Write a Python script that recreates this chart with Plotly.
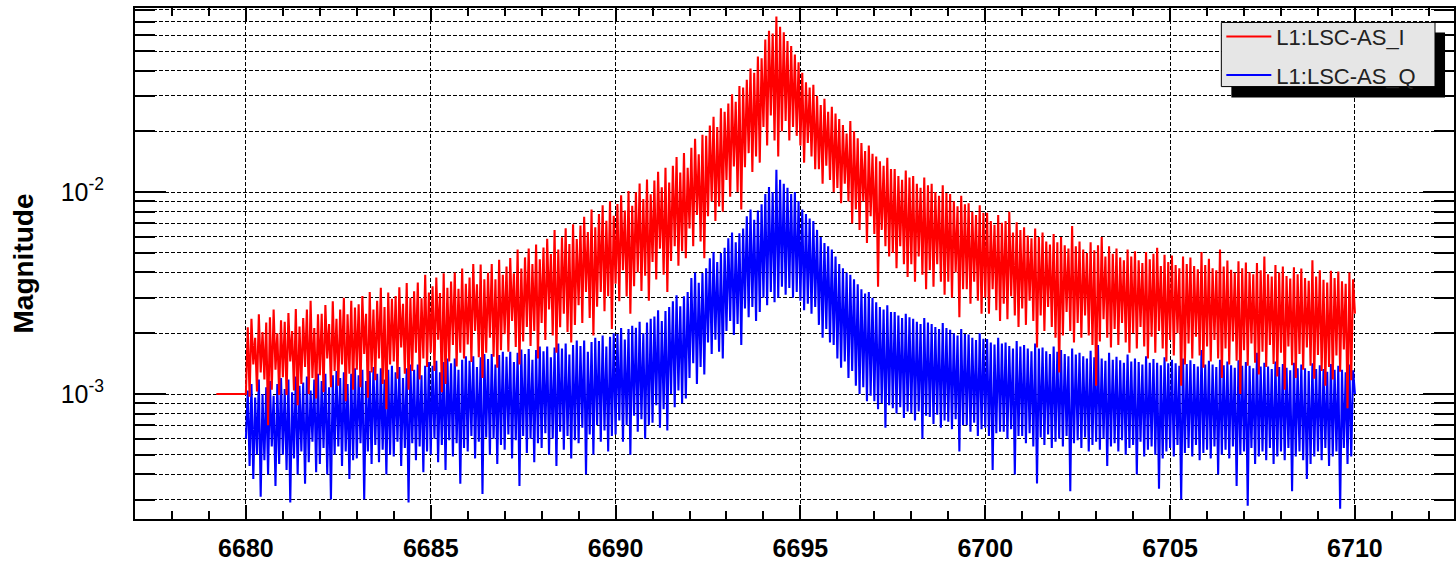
import numpy as np
import plotly.graph_objects as go

# Frequency grid of the measured spectrum (Hz)
F_START = 6680.0
F_STEP = 0.05

# In-phase channel magnitude, in units of 1e-5 (one row per 0.5 Hz)
AS_I_E5 = [
    100, 214, 97, 236, 140, 190, 103, 248, 128, 203,
    118, 226, 70, 240, 105, 262, 132, 200, 99, 232,
    121, 228, 99, 252, 145, 205, 104, 264, 88, 216,
    112, 238, 136, 262, 100, 290, 120, 212, 95, 248,
    124, 250, 102, 276, 150, 222, 108, 288, 130, 236,
    110, 262, 140, 300, 92, 248, 126, 290, 105, 268,
    132, 278, 108, 306, 158, 250, 96, 320, 128, 262,
    117, 290, 150, 336, 112, 270, 84, 318, 140, 296,
    145, 306, 119, 338, 170, 280, 126, 355, 105, 300,
    130, 323, 160, 357, 118, 298, 150, 390, 136, 318,
    160, 342, 130, 378, 186, 316, 102, 396, 112, 336,
    145, 361, 175, 400, 137, 332, 160, 418, 150, 352,
    176, 378, 144, 440, 205, 350, 152, 438, 120, 370,
    160, 399, 190, 441, 153, 370, 135, 462, 165, 390,
    198, 428, 162, 472, 230, 396, 171, 520, 140, 418,
    182, 475, 215, 525, 173, 440, 205, 550, 150, 465,
    225, 532, 185, 588, 262, 493, 195, 650, 160, 520,
    214, 598, 250, 662, 203, 554, 180, 693, 220, 586,
    275, 684, 225, 756, 320, 634, 238, 820, 195, 670,
    271, 779, 320, 861, 257, 722, 305, 902, 210, 763,
    352, 874, 288, 966, 410, 810, 304, 1012, 250, 856,
    342, 998, 400, 1103, 324, 924, 385, 1155, 290, 977,
    451, 1140, 369, 1260, 525, 1056, 390, 1320, 320, 1116,
    456, 1349, 540, 1491, 432, 1250, 510, 1562, 470, 1320,
    660, 1660, 540, 1840, 770, 1540, 570, 1925, 470, 1900,
    760, 2140, 900, 2360, 720, 2100, 850, 2600, 800, 2500,
    1150, 2750, 950, 3050, 1340, 2800, 1000, 3350, 820, 3300,
    1330, 3600, 1560, 4100, 1260, 3900, 1500, 4700, 1400, 4600,
    2100, 5700, 1700, 6300, 2400, 6100, 1800, 7400, 1500, 6600,
    2000, 6200, 2250, 5600, 1800, 5300, 2100, 4800, 1900, 4400,
    1700, 3900, 1400, 3500, 1750, 3300, 1500, 3400, 1300, 3000,
    1300, 2700, 1100, 2900, 1350, 2500, 1150, 2650, 1000, 2450,
    1050, 2300, 880, 2150, 1100, 1950, 900, 2250, 700, 2000,
    820, 1850, 650, 1750, 900, 1600, 560, 1700, 760, 1550,
    620, 1500, 340, 1420, 650, 1350, 540, 1480, 480, 1300,
    500, 1300, 420, 1200, 540, 1150, 440, 1280, 380, 1180,
    440, 1200, 360, 1100, 480, 1050, 390, 1180, 330, 1080,
    410, 1100, 340, 1000, 440, 960, 360, 1080, 310, 990,
    360, 980, 300, 900, 400, 850, 240, 960, 330, 870,
    330, 880, 280, 800, 360, 770, 290, 860, 250, 790,
    300, 790, 250, 720, 330, 690, 260, 770, 230, 705,
    280, 720, 235, 800, 305, 630, 245, 710, 215, 650,
    265, 670, 220, 610, 290, 590, 230, 660, 170, 600,
    245, 630, 205, 570, 270, 550, 215, 620, 190, 565,
    128, 600, 195, 545, 255, 525, 205, 680, 180, 540,
    225, 570, 190, 520, 245, 500, 195, 565, 175, 515,
    110, 545, 182, 600, 235, 480, 190, 540, 170, 495,
    210, 525, 175, 475, 225, 460, 180, 520, 160, 480,
    200, 510, 168, 460, 215, 445, 172, 505, 150, 465,
    192, 495, 160, 530, 205, 430, 168, 490, 145, 450,
    185, 485, 155, 435, 200, 420, 110, 480, 140, 440,
    178, 475, 150, 430, 192, 415, 155, 505, 135, 435,
    172, 468, 145, 420, 185, 410, 150, 520, 120, 428,
    168, 458, 140, 412, 182, 400, 146, 455, 100, 420,
    165, 448, 138, 402, 178, 392, 143, 445, 125, 410,
    162, 480, 136, 392, 175, 382, 141, 435, 122, 400,
    160, 428, 105, 384, 172, 373, 139, 425, 120, 392,
    158, 418, 132, 375, 170, 364, 138, 460, 119, 382,
    156, 410, 130, 368, 110, 357, 136, 408, 118, 376,
    155, 404, 129, 362, 166, 352, 85, 400, 117, 370,
    250,
]

# The I channel record starts a little below the sweep with a flat segment
AS_I_LEAD_FREQ = [6679.2]
AS_I_LEAD_E5 = [100]

# Quadrature channel magnitude, in units of 1e-5 (one row per 0.5 Hz)
AS_Q_E5 = [
    60, 104, 44, 112, 38, 96, 50, 118, 31, 100,
    47, 108, 40, 116, 55, 98, 35, 112, 45, 120,
    50, 106, 42, 118, 29, 102, 48, 122, 40, 110,
    52, 114, 36, 122, 46, 104, 58, 118, 41, 126,
    45, 116, 54, 126, 40, 108, 30, 124, 50, 130,
    55, 120, 44, 128, 52, 112, 38, 126, 47, 134,
    48, 124, 57, 132, 30, 116, 52, 130, 45, 136,
    56, 126, 46, 134, 53, 118, 40, 132, 50, 138,
    49, 128, 58, 136, 44, 120, 54, 134, 29, 140,
    57, 132, 47, 140, 55, 124, 41, 138, 52, 144,
    50, 138, 60, 146, 46, 128, 56, 144, 42, 150,
    59, 142, 49, 150, 57, 132, 36, 148, 54, 154,
    52, 146, 62, 154, 48, 136, 58, 152, 32, 158,
    61, 149, 50, 158, 60, 140, 45, 156, 56, 162,
    53, 153, 63, 162, 48, 144, 59, 160, 35, 166,
    62, 158, 51, 167, 60, 148, 46, 165, 57, 172,
    54, 163, 64, 172, 50, 152, 60, 170, 44, 178,
    65, 168, 53, 178, 62, 157, 48, 175, 59, 184,
    57, 173, 68, 184, 40, 162, 63, 181, 50, 190,
    70, 183, 58, 195, 66, 172, 52, 192, 62, 200,
    63, 198, 74, 212, 58, 186, 70, 210, 50, 218,
    78, 213, 65, 228, 75, 200, 60, 226, 70, 236,
    72, 242, 88, 260, 68, 230, 84, 258, 66, 270,
    100, 288, 86, 308, 104, 272, 90, 305, 95, 320,
    120, 375, 142, 400, 112, 356, 136, 398, 125, 420,
    180, 470, 158, 505, 186, 450, 162, 500, 150, 530,
    205, 590, 230, 630, 196, 565, 222, 625, 175, 660,
    265, 760, 240, 820, 270, 730, 230, 810, 255, 870,
    300, 980, 275, 1060, 320, 1000, 285, 1290, 300, 1150,
    340, 1100, 310, 1050, 335, 980, 300, 1000, 320, 900,
    290, 820, 260, 780, 280, 740, 250, 720, 270, 650,
    220, 600, 190, 560, 210, 540, 180, 520, 175, 480,
    150, 440, 135, 420, 145, 400, 120, 390, 130, 370,
    110, 350, 100, 330, 108, 315, 92, 320, 98, 300,
    92, 285, 84, 270, 90, 262, 68, 275, 88, 255,
    85, 255, 80, 245, 86, 238, 76, 250, 82, 240,
    80, 236, 74, 228, 82, 222, 60, 238, 78, 226,
    77, 222, 71, 215, 79, 210, 68, 225, 74, 212,
    73, 208, 67, 200, 75, 195, 52, 210, 70, 198,
    70, 197, 65, 190, 72, 185, 62, 200, 67, 188,
    68, 187, 62, 180, 42, 176, 64, 190, 65, 178,
    65, 180, 60, 173, 67, 168, 40, 183, 62, 172,
    62, 175, 57, 168, 64, 163, 55, 178, 36, 168,
    61, 170, 56, 163, 63, 158, 54, 172, 58, 162,
    60, 165, 55, 158, 62, 154, 33, 168, 57, 157,
    59, 160, 54, 154, 61, 150, 52, 164, 56, 152,
    58, 175, 53, 150, 60, 146, 44, 160, 55, 148,
    57, 153, 52, 147, 59, 143, 50, 157, 54, 145,
    56, 150, 40, 144, 58, 140, 49, 154, 53, 143,
    55, 149, 50, 143, 34, 139, 48, 152, 52, 142,
    54, 148, 49, 142, 56, 138, 30, 150, 51, 141,
    54, 147, 49, 141, 56, 137, 47, 165, 51, 140,
    53, 146, 48, 140, 55, 136, 40, 148, 50, 139,
    53, 145, 48, 139, 55, 135, 35, 147, 50, 138,
    52, 144, 28, 138, 54, 134, 45, 160, 49, 137,
    52, 143, 47, 137, 54, 133, 45, 145, 49, 136,
    52, 141, 47, 135, 54, 131, 33, 143, 49, 134,
    52, 140, 47, 134, 38, 130, 45, 142, 49, 133,
    52, 139, 47, 133, 54, 129, 44, 141, 49, 132,
    52, 138, 27, 132, 54, 128, 45, 140, 49, 131,
    100,
]

UNIT = 1e-5

# Axis settings
X_RANGE = [6677.0, 6712.68]
Y_LOG_RANGE = [-3.619, -1.088]
Y_MAJOR = [1e-3, 1e-2]
Y_MAJOR_TEXT = ["10<sup>-3</sup>", "10<sup>-2</sup>"]
Y_MINOR = [m * 10.0 ** e for e in (-4, -3, -2) for m in range(2, 10)]

grid = F_START + F_STEP * np.arange(len(AS_I_E5))
freq_i = np.concatenate([AS_I_LEAD_FREQ, grid])
mag_i = np.array(AS_I_LEAD_E5 + AS_I_E5) * UNIT
freq_q = F_START + F_STEP * np.arange(len(AS_Q_E5))
mag_q = np.array(AS_Q_E5) * UNIT

FONT = "Liberation Sans, Arial, Helvetica, sans-serif"
GRID_DASH = "4px,2px"
TRACE_WIDTH = 2.1

fig = go.Figure()
# Q is drawn first so the I trace sits on top of it; legendrank lists I first
fig.add_trace(go.Scatter(
    x=freq_q, y=mag_q, mode="lines", name="L1:LSC-AS_Q",
    legendgroup="q", legendrank=2,
    line=dict(color="#0000ff", width=TRACE_WIDTH),
))
fig.add_trace(go.Scatter(
    x=freq_i, y=mag_i, mode="lines", name="L1:LSC-AS_I",
    legendgroup="i", legendrank=1,
    line=dict(color="#ff0000", width=TRACE_WIDTH),
))

W, H = 1456, 562
ML, MR, MT, MB = 135, 0, 8, 34

# Legend frame: black drop shadow, then the grey box on top of it
fig.add_shape(type="rect", xref="paper", yref="paper",
              x0=0.8312, x1=0.9932, y0=0.825, y1=0.9519,
              fillcolor="black", line=dict(width=0), layer="above")
fig.add_shape(type="rect", xref="paper", yref="paper",
              x0=0.8236, x1=0.9856, y0=0.8462, y1=0.9717,
              fillcolor="#e6e6e6", line=dict(color="black", width=1),
              layer="above")

fig.update_layout(
    width=W, height=H,
    margin=dict(l=ML, r=MR, t=MT, b=MB, pad=0),
    paper_bgcolor="white", plot_bgcolor="white",
    font=dict(family=FONT, color="black"),
    showlegend=True,
    legend=dict(
        x=0.8236, y=0.985, xanchor="left", yanchor="top",
        bgcolor="rgba(0,0,0,0)", borderwidth=0,
        font=dict(size=22, family=FONT, color="#222222"),
        traceorder="grouped", tracegroupgap=7,
        itemwidth=45,
    ),
    xaxis=dict(
        range=X_RANGE, tick0=6680, dtick=5,
        showline=True, linecolor="black", linewidth=2,
        ticks="inside", ticklen=14, tickwidth=2, tickcolor="black",
        mirror="ticks",
        showgrid=True, gridcolor="black", gridwidth=1, griddash=GRID_DASH,
        zeroline=False,
        tickfont=dict(size=25, family=FONT, color="black", weight="bold"),
        ticklabelstandoff=6,
        minor=dict(dtick=1, ticks="inside", ticklen=8, tickwidth=1.5,
                   tickcolor="black", showgrid=False),
    ),
    yaxis=dict(
        type="log", range=Y_LOG_RANGE,
        tickmode="array", tickvals=Y_MAJOR, ticktext=Y_MAJOR_TEXT,
        showline=True, linecolor="black", linewidth=2,
        ticks="inside", ticklen=31, tickwidth=2, tickcolor="black",
        mirror="ticks",
        showgrid=True, gridcolor="black", gridwidth=1, griddash=GRID_DASH,
        zeroline=False,
        tickfont=dict(size=25, family=FONT, color="black"),
        ticklabelstandoff=24,
        minor=dict(tickmode="array", tickvals=Y_MINOR, ticks="inside",
                   ticklen=20, tickwidth=2, tickcolor="black",
                   showgrid=True, gridcolor="black", gridwidth=1,
                   griddash=GRID_DASH),
        title=dict(text="Magnitude", standoff=19,
                   font=dict(size=28, family=FONT, color="black", weight="bold")),
    ),
)

fig.write_html("out.html")
